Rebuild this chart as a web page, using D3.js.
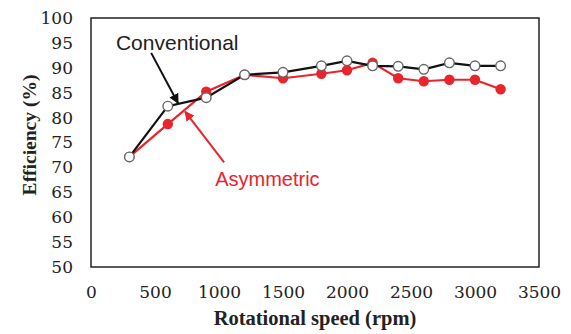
<!DOCTYPE html>
<html>
<head>
<meta charset="utf-8">
<script src="https://cdn.jsdelivr.net/npm/d3@7"></script>
<style>
  body { margin: 0; background: #fff; }
</style>
</head>
<body>
<div id="chart"></div>
<script>
// data
const speeds = [300, 600, 900, 1200, 1500, 1800, 2000, 2200, 2400, 2600, 2800, 3000, 3200]
const conventional = [72.1, 82.3, 84.0, 88.6, 89.1, 90.4, 91.4, 90.4, 90.3, 89.7, 91.0, 90.4, 90.4]
const asymmetric = [72.1, 78.7, 85.2, 88.6, 87.9, 88.8, 89.5, 91.0, 87.9, 87.3, 87.6, 87.6, 85.7]
const xTicks = [0, 500, 1000, 1500, 2000, 2500, 3000, 3500]
const yTicks = [50, 55, 60, 65, 70, 75, 80, 85, 90, 95, 100]

const canvasWidth = 571
const canvasHeight = 334
const margin = {top: 18, right: 32, bottom: 67, left: 91}
const width = canvasWidth - margin.left - margin.right
const height = canvasHeight - margin.top - margin.bottom

const svg = d3.select("#chart")
    .append("svg")
    .attr("width", canvasWidth)
    .attr("height", canvasHeight)

const g = svg.append("g")
    .attr("transform", "translate(" + margin.left + "," + margin.top + ")")

const x = d3.scaleLinear().domain([0, 3500]).range([0, width])
const y = d3.scaleLinear().domain([50, 100]).range([height, 0])

const serif = "'Liberation Serif', 'Times New Roman', serif"
const tickFont = "'DejaVu Serif', serif"

// axes (labels only, frame drawn separately)
const yAxis = g.append("g")
    .call(d3.axisLeft(y).tickValues(yTicks).tickSize(0).tickPadding(18).tickFormat(d3.format("d")))
    .attr("font-family", tickFont)
    .attr("font-size", 17)
yAxis.select(".domain").remove()
yAxis.selectAll("text").attr("fill", "#222")

const xAxis = g.append("g")
    .attr("transform", "translate(0," + height + ")")
    .call(d3.axisBottom(x).tickValues(xTicks).tickSize(0).tickPadding(19).tickFormat(d3.format("d")))
    .attr("font-family", tickFont)
    .attr("font-size", 17)
xAxis.select(".domain").remove()
xAxis.selectAll("text").attr("fill", "#222")

g.append("rect")
    .attr("width", width)
    .attr("height", height)
    .attr("fill", "none")
    .attr("stroke", "#222")
    .attr("stroke-width", 1.5)

// axis titles
svg.append("text")
    .attr("x", 315)
    .attr("y", 325)
    .attr("text-anchor", "middle")
    .style("font-family", serif)
    .style("font-weight", "bold")
    .style("font-size", "20.5px")
    .attr("fill", "#222")
    .text("Rotational speed (rpm)")

svg.append("text")
    .attr("transform", "translate(36," + 135 + ") rotate(-90)")
    .attr("text-anchor", "middle")
    .style("font-family", serif)
    .style("font-weight", "bold")
    .style("font-size", "19.5px")
    .attr("fill", "#222")
    .text("Efficiency (%)")

// arrow markers
const defs = svg.append("defs")
function marker(id, color) {
    defs.append("marker")
        .attr("id", id)
        .attr("viewBox", "0 0 10 10")
        .attr("refX", 9)
        .attr("refY", 5)
        .attr("markerWidth", 5)
        .attr("markerHeight", 5)
        .attr("orient", "auto")
        .append("path")
        .attr("d", "M0,0L10,5L0,10z")
        .attr("fill", color)
}
marker("arrBlack", "#111")
marker("arrRed", "#e8242c")

// series lines
const line = d3.line()
    .x((d, i) => x(speeds[i]))
    .y(d => y(d))

g.append("path")
    .datum(asymmetric)
    .attr("fill", "none")
    .attr("stroke", "#e8242c")
    .attr("stroke-width", 2.2)
    .attr("d", line)

g.append("path")
    .datum(conventional)
    .attr("fill", "none")
    .attr("stroke", "#111")
    .attr("stroke-width", 2.2)
    .attr("d", line)

g.selectAll(".dotA")
    .data(asymmetric)
    .enter()
    .append("circle")
    .attr("class", "dotA")
    .attr("cx", (d, i) => x(speeds[i]))
    .attr("cy", d => y(d))
    .attr("r", 5.2)
    .attr("fill", "#e8242c")

g.selectAll(".dotC")
    .data(conventional)
    .enter()
    .append("circle")
    .attr("class", "dotC")
    .attr("cx", (d, i) => x(speeds[i]))
    .attr("cy", d => y(d))
    .attr("r", 4.8)
    .attr("fill", "#fff")
    .attr("stroke", "#666")
    .attr("stroke-width", 1.4)

// annotations
g.append("line")
    .attr("x1", x(470)).attr("y1", y(93.0))
    .attr("x2", x(680)).attr("y2", y(82.9))
    .attr("stroke", "#111")
    .attr("stroke-width", 2)
    .attr("marker-end", "url(#arrBlack)")

g.append("line")
    .attr("x1", x(1040)).attr("y1", y(71.0))
    .attr("x2", x(735)).attr("y2", y(81.2))
    .attr("stroke", "#e8242c")
    .attr("stroke-width", 2)
    .attr("marker-end", "url(#arrRed)")

g.append("text")
    .attr("x", x(195))
    .attr("y", y(93.6))
    .style("font-family", "'Liberation Sans', Arial, sans-serif")
    .style("font-size", "21px")
    .attr("fill", "#222")
    .text("Conventional")

g.append("text")
    .attr("x", x(970))
    .attr("y", y(66.3))
    .style("font-family", "'Liberation Sans', Arial, sans-serif")
    .style("font-size", "20px")
    .attr("fill", "#e8242c")
    .text("Asymmetric")
</script>
</body>
</html>
